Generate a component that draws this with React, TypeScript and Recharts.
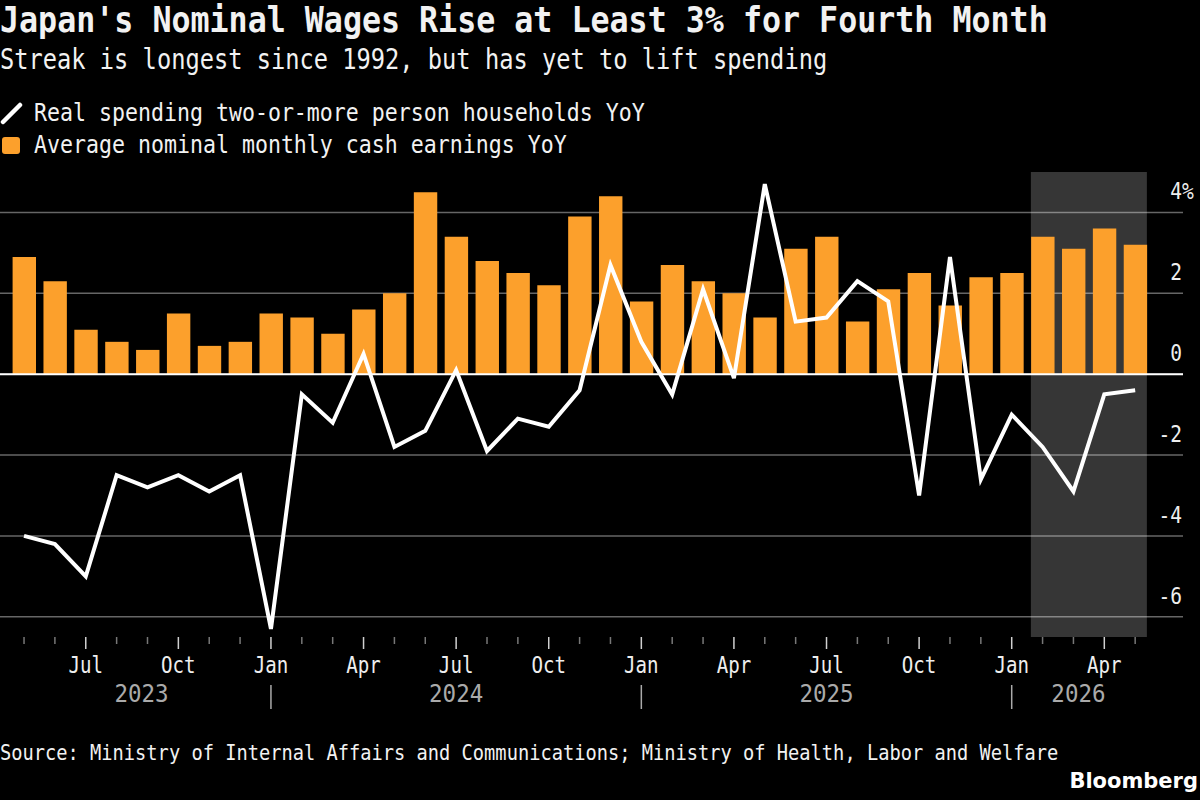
import React from "react";
import {
  ComposedChart,
  Bar,
  Line,
  XAxis,
  YAxis,
  CartesianGrid,
  ReferenceArea,
  ReferenceLine,
} from "recharts";

const MONTHS = [
  "2023-05", "2023-06", "2023-07", "2023-08", "2023-09", "2023-10", "2023-11", "2023-12",
  "2024-01", "2024-02", "2024-03", "2024-04", "2024-05", "2024-06", "2024-07", "2024-08",
  "2024-09", "2024-10", "2024-11", "2024-12", "2025-01", "2025-02", "2025-03", "2025-04",
  "2025-05", "2025-06", "2025-07", "2025-08", "2025-09", "2025-10", "2025-11", "2025-12",
  "2026-01", "2026-02", "2026-03", "2026-04", "2026-05",
];

const EARNINGS = [
  2.9, 2.3, 1.1, 0.8, 0.6, 1.5, 0.7, 0.8,
  1.5, 1.4, 1.0, 1.6, 2.0, 4.5, 3.4, 2.8,
  2.5, 2.2, 3.9, 4.4, 1.8, 2.7, 2.3, 2.0,
  1.4, 3.1, 3.4, 1.3, 2.1, 2.5, 1.7, 2.4,
  2.5, 3.4, 3.1, 3.6, 3.2,
];

const SPENDING = [
  -4.0, -4.2, -5.0, -2.5, -2.8, -2.5, -2.9, -2.5,
  -6.3, -0.5, -1.2, 0.5, -1.8, -1.4, 0.1, -1.9,
  -1.1, -1.3, -0.4, 2.7, 0.8, -0.5, 2.1, -0.1,
  4.7, 1.3, 1.4, 2.3, 1.8, -3.0, 2.9, -2.6,
  -1.0, -1.8, -2.9, -0.5, -0.4,
];

const Y_TICKS = [-6, -4, -2, 0, 2, 4];
const MONTH_NAMES: Record<string, string> = { "01": "Jan", "04": "Apr", "07": "Jul", "10": "Oct" };
const YEAR_LABELS: Record<string, string> = {
  "2023-09": "2023",
  "2024-07": "2024",
  "2025-07": "2025",
  "2026-03": "2026",
};

const data = MONTHS.map((month, i) => ({
  month,
  earnings: EARNINGS[i],
  spending: SPENDING[i],
}));

const FONT = "'DejaVu Sans Mono', monospace";
const ORANGE = "#fca02c";
const BAR_WIDTH = 23.4;
const BAND_GAP = 7.46;
// the source font is a narrow mono, so DejaVu gets squeezed horizontally
const SQUEEZE = 0.85;

function NarrowText({ x, y, anchor, size, fill, sx = SQUEEZE, children }: any) {
  return (
    <text
      transform={`translate(${x} ${y}) scale(${sx} 1)`}
      fill={fill}
      fontSize={size}
      textAnchor={anchor}
      fontFamily={FONT}
    >
      {children}
    </text>
  );
}

function Caption({ left, top, size, sx = SQUEEZE, weight = 400, children }: any) {
  return (
    <div
      style={{
        position: "absolute",
        left,
        top,
        fontSize: size,
        fontWeight: weight,
        whiteSpace: "nowrap",
        transform: `scaleX(${sx})`,
        transformOrigin: "left center",
      }}
    >
      {children}
    </div>
  );
}

function MonthTick({ x, y, payload }: any) {
  const [year, mm] = payload.value.split("-");
  const name = MONTH_NAMES[mm];
  const yearLabel = YEAR_LABELS[payload.value];
  // 2023 and 2026 are short spans so their label sits off the month centre
  const yearDx = year === "2023" ? -6 : year === "2026" ? 5 : 0;
  return (
    <g>
      <line x1={x} x2={x} y1={y} y2={y + (name ? 12 : 7)} stroke={name ? "#d0d0d0" : "#777"} strokeWidth={1.5} />
      {name && (
        <NarrowText x={x} y={y + 36} anchor="middle" size={22.5} fill="#eee">
          {name}
        </NarrowText>
      )}
      {mm === "01" && <line x1={x} x2={x} y1={y + 48} y2={y + 72} stroke="#aaa" strokeWidth={1.5} />}
      {yearLabel && (
        <NarrowText x={x + yearDx} y={y + 65} anchor="middle" size={25} fill="#aaa" sx={0.9}>
          {yearLabel}
        </NarrowText>
      )}
    </g>
  );
}

function ValueTick({ x, y, payload }: any) {
  return (
    <g>
      <NarrowText x={x - 1} y={y - 13} anchor="end" size={23} fill="#eee">
        {payload.value}
      </NarrowText>
      {payload.value === 4 && (
        <NarrowText x={x - 1} y={y - 13} anchor="start" size={23} fill="#eee">
          %
        </NarrowText>
      )}
    </g>
  );
}

// translucent so the gridlines still show through the shaded months
function ShadeRect({ x, y, width, height }: any) {
  return <rect x={x + BAND_GAP / 2} y={y} width={width - BAND_GAP} height={height} fill="#fff" fillOpacity={0.21} />;
}

export default function App() {
  return (
    <div style={{ position: "absolute", left: 0, top: 0, width: 1200, height: 800, background: "#000", overflow: "hidden", fontFamily: FONT, color: "#f2f2f2" }}>
      <Caption left={0} top={0} size={35} sx={0.904} weight={700}>
        Japan's Nominal Wages Rise at Least 3% for Fourth Month
      </Caption>
      <Caption left={0} top={43} size={28} sx={0.846}>
        Streak is longest since 1992, but has yet to lift spending
      </Caption>
      <Caption left={34} top={97} size={25.4}>
        Real spending two-or-more person households YoY
      </Caption>
      <Caption left={34} top={129} size={25.4}>
        Average nominal monthly cash earnings YoY
      </Caption>
      <svg style={{ position: "absolute", left: 0, top: 100 }} width={24} height={60}>
        <line x1={3} y1={22} x2={20} y2={5} stroke="#fff" strokeWidth={4.5} strokeLinecap="round" />
        <rect x={2} y={37} width={18} height={17} rx={3} fill={ORANGE} />
      </svg>

      <div style={{ position: "absolute", left: 0, top: 0 }}>
        <ComposedChart
          width={1200}
          height={800}
          data={data}
          margin={{ top: 172, right: 0, bottom: 0, left: 0 }}
          barCategoryGap={0}
        >
          <CartesianGrid vertical={false} stroke="#666" strokeWidth={1.5} syncWithTicks />
          <ReferenceArea x1="2026-02" x2="2026-05" shape={<ShadeRect />} />
          <XAxis
            dataKey="month"
            interval={0}
            height={163}
            padding={{ left: 8.6, right: 32.4 }}
            axisLine={false}
            tickLine={false}
            tickSize={0}
            tickMargin={0}
            tick={<MonthTick />}
          />
          <YAxis
            orientation="right"
            width={17}
            domain={[-6.5, 5]}
            ticks={Y_TICKS}
            axisLine={false}
            tickLine={false}
            tickSize={0}
            tickMargin={0}
            tick={<ValueTick />}
          />
          <Bar dataKey="earnings" fill={ORANGE} barSize={BAR_WIDTH} isAnimationActive={false} />
          <ReferenceLine y={0} stroke="#fff" strokeWidth={2} />
          <Line
            dataKey="spending"
            type="linear"
            stroke="#fff"
            strokeWidth={4}
            dot={false}
            activeDot={false}
            isAnimationActive={false}
          />
        </ComposedChart>
      </div>

      <Caption left={0} top={740} size={22}>
        Source: Ministry of Internal Affairs and Communications; Ministry of Health, Labor and Welfare
      </Caption>
      <div style={{ position: "absolute", right: 2, top: 769, fontFamily: "'DejaVu Sans', sans-serif", fontWeight: 700, fontSize: 21, color: "#fff" }}>
        Bloomberg
      </div>
    </div>
  );
}
